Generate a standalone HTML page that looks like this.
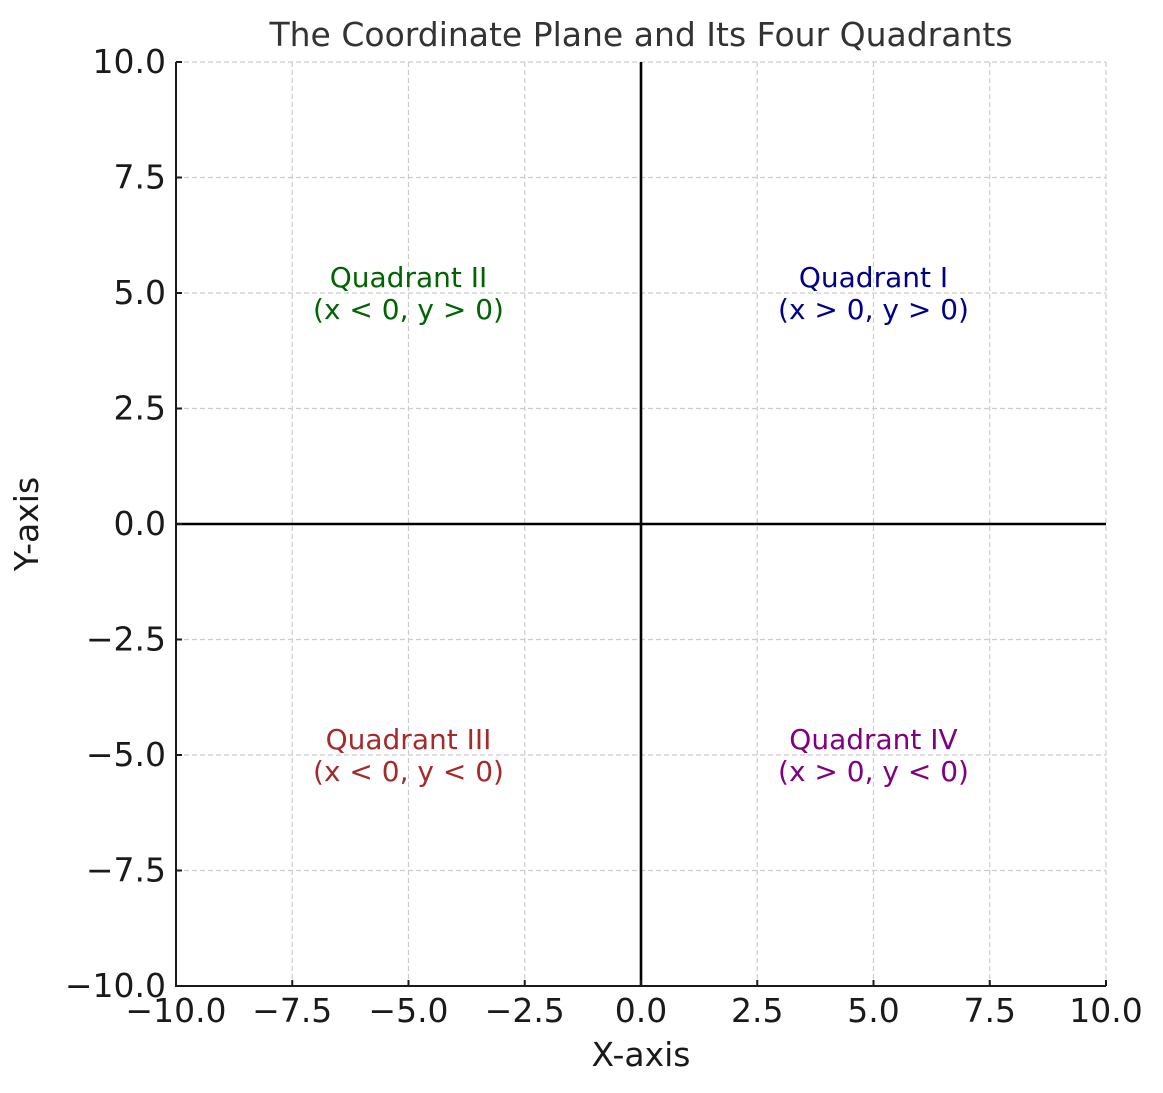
<!DOCTYPE html>
<html><head><meta charset="utf-8"><style>
html,body{margin:0;padding:0;background:#fff}
svg{display:block;font-family:"DejaVu Sans","Liberation Sans",sans-serif}
</style></head><body>
<svg id="chart" width="1163" height="1093" viewBox="0 0 1163 1093">
<text x="641" y="46" text-anchor="middle" font-size="33" fill="#333">The Coordinate Plane and Its Four Quadrants</text>
<text x="641" y="1066" text-anchor="middle" font-size="33" fill="#1a1a1a">X-axis</text>
<text x="38" y="524" text-anchor="middle" font-size="33" fill="#1a1a1a" transform="rotate(-90 38 524)">Y-axis</text>
<g id="grid"></g><g id="marks"></g><g id="axes"></g>
</svg>
<script>
const xTicks=[-10,-7.5,-5,-2.5,0,2.5,5,7.5,10];
const yTicks=[-10,-7.5,-5,-2.5,0,2.5,5,7.5,10];
const quadNames=["Quadrant I","Quadrant II","Quadrant III","Quadrant IV"];
const quadConds=["(x > 0, y > 0)","(x < 0, y > 0)","(x < 0, y < 0)","(x > 0, y < 0)"];
const quadX=[5,-5,-5,5];
const quadY=[5,5,-5,-5];
const quadColors=["#00008b","#006400","#a52a2a","#800080"];
const X0=176,X1=1106,Y0=986,Y1=62;
const sx=v=>X0+(v+10)/20*(X1-X0);
const sy=v=>Y0-(v+10)/20*(Y0-Y1);
const NS="http://www.w3.org/2000/svg";
function mk(tag,attrs,parent){const e=document.createElementNS(NS,tag);for(const k in attrs)e.setAttribute(k,attrs[k]);parent.appendChild(e);return e;}
const grid=document.getElementById('grid'),marks=document.getElementById('marks'),axes=document.getElementById('axes');
const fmt=v=>(v<0?"\u2212":"")+Math.abs(v).toFixed(1);
xTicks.forEach(v=>{
 const g=mk('line',{x1:sx(v),x2:sx(v),y1:Y1,y2:Y0,stroke:'#ccc','stroke-width':1.2,'stroke-dasharray':'5,3'},grid);
 
 
 const t=mk('line',{x1:sx(v),x2:sx(v),y1:Y0,y2:Y0-6,stroke:'#1a1a1a','stroke-width':2},axes);
 
 
 const l=mk('text',{x:sx(v),y:1022,'text-anchor':'middle','font-size':33,fill:'#1a1a1a'},axes);
 l.textContent=fmt(v);
 
 
});
yTicks.forEach(v=>{
 const g=mk('line',{x1:X0,x2:X1,y1:sy(v),y2:sy(v),stroke:'#ccc','stroke-width':1.2,'stroke-dasharray':'5,3'},grid);
 
 
 const t=mk('line',{x1:X0,x2:X0+6,y1:sy(v),y2:sy(v),stroke:'#1a1a1a','stroke-width':2},axes);
 
 
 const l=mk('text',{x:166,y:sy(v)+11,'text-anchor':'end','font-size':33,fill:'#1a1a1a'},axes);
 l.textContent=fmt(v);
 
 
});
const h=mk('line',{x1:X0,x2:X1,y1:sy(0),y2:sy(0),stroke:'#000','stroke-width':2.6},marks);


const vl=mk('line',{x1:sx(0),x2:sx(0),y1:Y1,y2:Y0,stroke:'#000','stroke-width':2.6},marks);


quadNames.forEach((n,i)=>{
 const t=mk('text',{x:sx(quadX[i]),y:sy(quadY[i])-6,'text-anchor':'middle','font-size':28,fill:quadColors[i]},marks);
 
 
 const a=mk('tspan',{x:sx(quadX[i])},t);a.textContent=n;
 const b=mk('tspan',{x:sx(quadX[i]),dy:32},t);b.textContent=quadConds[i];
});
const ls=mk('line',{x1:X0,x2:X0,y1:Y1,y2:Y0+1,stroke:'#1a1a1a','stroke-width':2},axes);


const bs=mk('line',{x1:X0-1,x2:X1,y1:Y0,y2:Y0,stroke:'#1a1a1a','stroke-width':2},axes);


</script>
</body></html>
